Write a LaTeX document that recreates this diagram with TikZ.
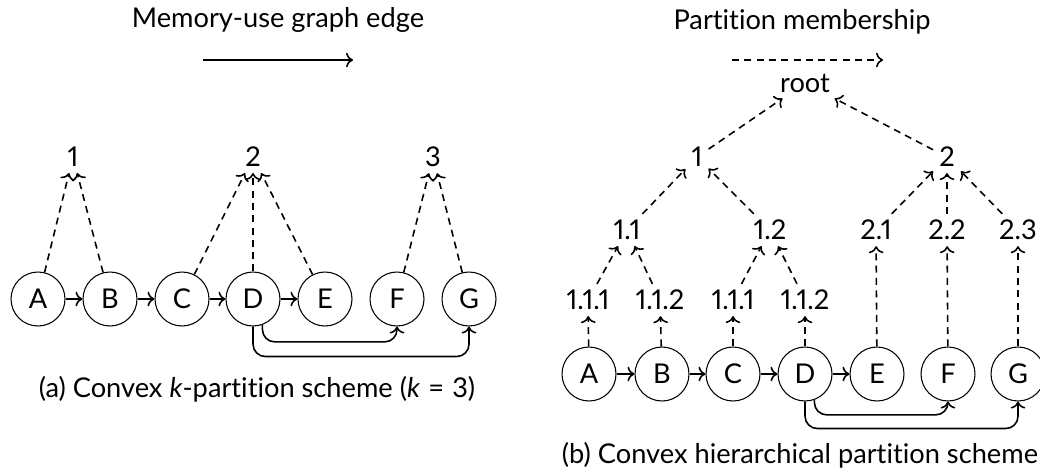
\documentclass[tikz,border=0pt]{standalone}
\usepackage{fontspec}
\setmainfont{Lato}[Ligatures=NoCommon,Numbers=Proportional]
\usetikzlibrary{arrows.meta}

\begin{document}
\begin{tikzpicture}[x=0.02cm,y=-0.02cm,>={To[length=1.4mm]},
  font=\fontsize{15.5}{19}\selectfont,
  op/.style={circle,draw,line width=0.6pt,minimum size=1.08cm,inner sep=0pt},
  member/.style={->,dash pattern=on 4pt off 3pt,line width=0.9pt},
  use/.style={->,line width=0.9pt}]
  \useasboundingbox (0,0) rectangle (1040,474);
  % legend
  \node (tuse) at (278,20) {Memory-use graph edge};
  \coordinate (u0) at (203,60);
  \coordinate (u1) at (353,60);
  \draw[use] (u0) -- (u1);
  \node (tmem) at (802,22) {Partition membership};
  \coordinate (m0) at (732,60);
  \coordinate (m1) at (883,60);
  \draw[member] (m0) -- (m1);
  % (a) convex k-partition
  \node (ap1) at (73,157) {1};
  \node (ap2) at (253,157) {2};
  \node (ap3) at (433,157) {3};
  \node[op] (aA) at (38,299) {A};
  \node[op] (aB) at (110,299) {B};
  \node[op] (aC) at (182,299) {C};
  \node[op] (aD) at (253,299) {D};
  \node[op] (aE) at (325,299) {E};
  \node[op] (aF) at (397,299) {F};
  \node[op] (aG) at (469,299) {G};
  \draw[use] (aA) -- (aB);
  \draw[use] (aB) -- (aC);
  \draw[use] (aC) -- (aD);
  \draw[use] (aD) -- (aE);
  \draw[use,rounded corners=7pt] (aD.-70) -- ++(0,17) -| (aF.south);
  \draw[use,rounded corners=7pt] (aD.south) -- ++(0,30) -| (aG.south);
  \draw[member] (aA) -- (ap1);
  \draw[member] (aB) -- (ap1);
  \draw[member] (aC) -- (ap2);
  \draw[member] (aD) -- (ap2);
  \draw[member] (aE) -- (ap2);
  \draw[member] (aF) -- (ap3);
  \draw[member] (aG) -- (ap3);
  \node (capa) at (257,389) {(a) Convex \textit{k}-partition scheme (\textit{k}\hspace{0.3em}=\hspace{0.3em}3)};
  % (b) convex hierarchical partition
  \node (broot) at (805,83) {root};
  \node (bp1) at (697,157) {1};
  \node (bp2) at (947,157) {2};
  \node (bp11) at (627,230) {1.1};
  \node (bp12) at (770,230) {1.2};
  \node (bp21) at (876,230) {2.1};
  \node (bp22) at (947,230) {2.2};
  \node (bp23) at (1018,230) {2.3};
  \node (bp111) at (588,300) {1.1.1};
  \node (bp112) at (660,300) {1.1.2};
  \node (bp121) at (733,300) {1.1.1};
  \node (bp122) at (805,300) {1.1.2};
  \node[op] (bA) at (589,374) {A};
  \node[op] (bB) at (662,374) {B};
  \node[op] (bC) at (733,374) {C};
  \node[op] (bD) at (805,374) {D};
  \node[op] (bE) at (877,374) {E};
  \node[op] (bF) at (948,374) {F};
  \node[op] (bG) at (1018,374) {G};
  \draw[use] (bA) -- (bB);
  \draw[use] (bB) -- (bC);
  \draw[use] (bC) -- (bD);
  \draw[use] (bD) -- (bE);
  \draw[use,rounded corners=7pt] (bD.-70) -- ++(0,15) -| (bF.south);
  \draw[use,rounded corners=7pt] (bD.south) -- ++(0,27) -| (bG.south);
  \draw[member] (bA) -- (bp111);
  \draw[member] (bB) -- (bp112);
  \draw[member] (bC) -- (bp121);
  \draw[member] (bD) -- (bp122);
  \draw[member] (bE) -- (bp21);
  \draw[member] (bF) -- (bp22);
  \draw[member] (bG) -- (bp23);
  \draw[member] (bp111) -- (bp11);
  \draw[member] (bp112) -- (bp11);
  \draw[member] (bp121) -- (bp12);
  \draw[member] (bp122) -- (bp12);
  \draw[member] (bp11) -- (bp1);
  \draw[member] (bp12) -- (bp1);
  \draw[member] (bp21) -- (bp2);
  \draw[member] (bp22) -- (bp2);
  \draw[member] (bp23) -- (bp2);
  \draw[member] (bp1) -- (broot);
  \draw[member] (bp2) -- (broot);
  \node[inner sep=1pt] (capb) at (800,455) {(b) Convex hierarchical partition scheme};
\end{tikzpicture}
\end{document}
